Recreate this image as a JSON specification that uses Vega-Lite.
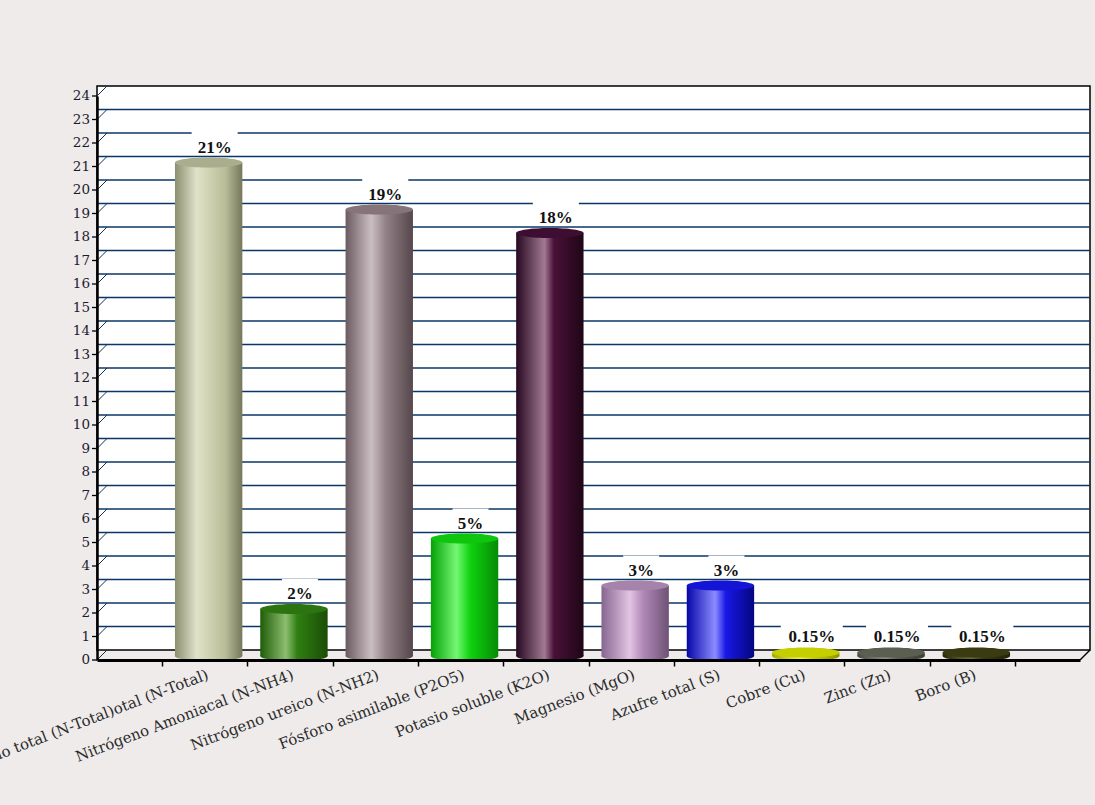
{
  "$schema": "https://vega.github.io/schema/vega-lite/v6.json",
  "width": 983,
  "height": 564,
  "autosize": {"type": "none"},
  "padding": {"left": 97, "top": 96, "right": 15, "bottom": 145},
  "background": "#eeebea",
  "config": {
    "view": {"stroke": null},
    "axis": {"grid": false}
  },
  "datasets": {
    "nutrientes": [
      {"nutriente": "Nitrógeno total (N-Total)otal (N-Total)", "valor": 21},
      {"nutriente": "Nitrógeno Amoniacal (N-NH4)", "valor": 2},
      {"nutriente": "Nitrógeno ureico (N-NH2)", "valor": 19},
      {"nutriente": "Fósforo asimilable (P2O5)", "valor": 5},
      {"nutriente": "Potasio soluble (K2O)", "valor": 18},
      {"nutriente": "Magnesio (MgO)", "valor": 3},
      {"nutriente": "Azufre total (S)", "valor": 3},
      {"nutriente": "Cobre (Cu)", "valor": 0.15},
      {"nutriente": "Zinc (Zn)", "valor": 0.15},
      {"nutriente": "Boro (B)", "valor": 0.15}
    ],
    "rejilla": [
      {"v": 0}, {"v": 1}, {"v": 2}, {"v": 3}, {"v": 4}, {"v": 5}, {"v": 6}, {"v": 7},
      {"v": 8}, {"v": 9}, {"v": 10}, {"v": 11}, {"v": 12}, {"v": 13}, {"v": 14},
      {"v": 15}, {"v": 16}, {"v": 17}, {"v": 18}, {"v": 19}, {"v": 20}, {"v": 21},
      {"v": 22}, {"v": 23}, {"v": 24}
    ],
    "marco": [{"pared": "fondo"}]
  },
  "layer": [
    {
      "description": "back wall of the 3D frame",
      "data": {"name": "marco"},
      "mark": {"type": "rect", "fill": "white", "stroke": "black", "strokeWidth": 1.5,
               "xOffset": 10, "x2Offset": 10, "yOffset": -10, "y2Offset": -10},
      "encoding": {
        "y": {"datum": 24, "type": "quantitative",
              "scale": {"domain": [0, 24], "nice": false, "zero": true}},
        "y2": {"datum": 0}
      }
    },
    {
      "description": "grid lines on the back wall",
      "data": {"name": "rejilla"},
      "transform": [{"filter": "datum.v > 0 && datum.v < 24"}],
      "mark": {"type": "rule", "color": "#0b3766", "strokeWidth": 1.3,
               "xOffset": 10, "x2Offset": 10, "yOffset": -10},
      "encoding": {"y": {"field": "v", "type": "quantitative"}}
    },
    {
      "description": "depth connectors from the value axis to the back wall",
      "data": {"name": "rejilla"},
      "mark": {"type": "rule", "color": "#13304f", "strokeWidth": 1, "x2Offset": 10, "y2Offset": -10},
      "encoding": {
        "x": {"value": 0}, "x2": {"value": 0},
        "y": {"field": "v", "type": "quantitative"}, "y2": {"field": "v"}
      }
    },
    {
      "description": "value-axis tick marks, one per unit",
      "data": {"name": "rejilla"},
      "mark": {"type": "rule", "color": "black", "strokeWidth": 1.3, "x2Offset": -5},
      "encoding": {
        "x": {"value": 0}, "x2": {"value": 0},
        "y": {"field": "v", "type": "quantitative"}, "y2": {"field": "v"}
      }
    },
    {
      "description": "value-axis labels, one per unit",
      "data": {"name": "rejilla"},
      "mark": {"type": "text", "font": "DejaVu Serif", "fontSize": 13.5, "color": "#1c1c30",
               "align": "right", "baseline": "middle", "xOffset": -7},
      "encoding": {
        "x": {"value": 0},
        "y": {"field": "v", "type": "quantitative"},
        "text": {"field": "v", "type": "quantitative", "format": "d"}
      }
    },
    {
      "description": "floor edge at the right end",
      "data": {"name": "marco"},
      "mark": {"type": "rule", "color": "black", "strokeWidth": 1.5, "x2Offset": 10, "y2Offset": -10},
      "encoding": {
        "x": {"value": "width"}, "x2": {"value": "width"},
        "y": {"datum": 0, "type": "quantitative"}, "y2": {"datum": 0}
      }
    },
    {
      "description": "white boxes behind the value labels",
      "data": {"name": "nutrientes"},
      "mark": {"type": "point", "filled": true, "fill": "white", "opacity": 1, "strokeWidth": 0,
               "shape": "M-1,-0.5L1,-0.5L1,0.5L-1,0.5Z", "xOffset": 10, "yOffset": -25},
      "encoding": {
        "x": {"field": "nutriente", "type": "nominal", "sort": null},
        "y": {"field": "valor", "type": "quantitative"},
        "size": {"condition": [
                   {"test": "datum.valor < 1", "value": 3844},
                   {"test": "datum.valor < 10", "value": 1296}
                 ], "value": 2116}
      }
    },
    {
      "description": "cylinder bodies",
      "data": {"name": "nutrientes"},
      "mark": {"type": "bar", "width": {"band": 0.79}, "xOffset": 4, "yOffset": -4, "y2Offset": -4},
      "encoding": {
        "x": {"field": "nutriente", "type": "nominal", "sort": null,
              "scale": {"paddingInner": 0, "paddingOuter": 0.762},
              "axis": {"title": null, "labelAngle": -21, "labelAlign": "right", "labelBaseline": "top",
                       "labelFont": "DejaVu Serif", "labelFontSize": 15, "labelColor": "#2a2a2a",
                       "labelPadding": 1, "labelLimit": 500, "labelOverlap": false,
                       "tickBand": "extent", "tickSize": 6, "tickColor": "black", "tickWidth": 1.5,
                       "domainColor": "black", "domainWidth": 3, "zindex": 1}},
        "y": {"field": "valor", "type": "quantitative",
              "axis": {"title": null, "labels": false, "ticks": false,
                       "domainColor": "black", "domainWidth": 2.5, "zindex": 1}},
        "fill": {"condition": [
          {"test": "datum.nutriente === 'Nitrógeno total (N-Total)otal (N-Total)'", "value": {"gradient": "linear", "x1": 0, "y1": 0, "x2": 1, "y2": 0, "stops": [{"offset": 0, "color": "#8b8f70"}, {"offset": 0.32, "color": "#e0e2c9"}, {"offset": 0.5, "color": "#d0d3b3"}, {"offset": 0.75, "color": "#b9bc98"}, {"offset": 1, "color": "#74775a"}]}},
          {"test": "datum.nutriente === 'Nitrógeno Amoniacal (N-NH4)'", "value": {"gradient": "linear", "x1": 0, "y1": 0, "x2": 1, "y2": 0, "stops": [{"offset": 0, "color": "#1f5c07"}, {"offset": 0.38, "color": "#8dbd70"}, {"offset": 0.55, "color": "#2f7f12"}, {"offset": 1, "color": "#1a4d05"}]}},
          {"test": "datum.nutriente === 'Nitrógeno ureico (N-NH2)'", "value": {"gradient": "linear", "x1": 0, "y1": 0, "x2": 1, "y2": 0, "stops": [{"offset": 0, "color": "#6a5b60"}, {"offset": 0.38, "color": "#cbbec2"}, {"offset": 0.6, "color": "#918186"}, {"offset": 1, "color": "#55474b"}]}},
          {"test": "datum.nutriente === 'Fósforo asimilable (P2O5)'", "value": {"gradient": "linear", "x1": 0, "y1": 0, "x2": 1, "y2": 0, "stops": [{"offset": 0, "color": "#06a006"}, {"offset": 0.38, "color": "#74f874"}, {"offset": 0.58, "color": "#10d210"}, {"offset": 1, "color": "#058c05"}]}},
          {"test": "datum.nutriente === 'Potasio soluble (K2O)'", "value": {"gradient": "linear", "x1": 0, "y1": 0, "x2": 1, "y2": 0, "stops": [{"offset": 0, "color": "#260820"}, {"offset": 0.42, "color": "#a27a93"}, {"offset": 0.56, "color": "#4a1038"}, {"offset": 1, "color": "#1f0616"}]}},
          {"test": "datum.nutriente === 'Magnesio (MgO)'", "value": {"gradient": "linear", "x1": 0, "y1": 0, "x2": 1, "y2": 0, "stops": [{"offset": 0, "color": "#866690"}, {"offset": 0.42, "color": "#e2c4e2"}, {"offset": 0.62, "color": "#b088b6"}, {"offset": 1, "color": "#6e5274"}]}},
          {"test": "datum.nutriente === 'Azufre total (S)'", "value": {"gradient": "linear", "x1": 0, "y1": 0, "x2": 1, "y2": 0, "stops": [{"offset": 0, "color": "#0606a8"}, {"offset": 0.42, "color": "#8c8cff"}, {"offset": 0.58, "color": "#1818e6"}, {"offset": 1, "color": "#050580"}]}},
          {"test": "datum.nutriente === 'Cobre (Cu)'", "value": {"gradient": "linear", "x1": 0, "y1": 0, "x2": 1, "y2": 0, "stops": [{"offset": 0, "color": "#a4ab00"}, {"offset": 0.42, "color": "#eef34a"}, {"offset": 0.6, "color": "#c9d300"}, {"offset": 1, "color": "#8f9500"}]}},
          {"test": "datum.nutriente === 'Zinc (Zn)'", "value": {"gradient": "linear", "x1": 0, "y1": 0, "x2": 1, "y2": 0, "stops": [{"offset": 0, "color": "#474b40"}, {"offset": 0.42, "color": "#8e9284"}, {"offset": 0.6, "color": "#5b5f51"}, {"offset": 1, "color": "#3c4035"}]}}
        ], "value": {"gradient": "linear", "x1": 0, "y1": 0, "x2": 1, "y2": 0, "stops": [{"offset": 0, "color": "#2a2a08"}, {"offset": 0.42, "color": "#6e6e36"}, {"offset": 0.6, "color": "#3b3b11"}, {"offset": 1, "color": "#232306"}]}}
      }
    },
    {
      "description": "rounded base of each cylinder",
      "data": {"name": "nutrientes"},
      "mark": {"type": "point", "filled": true, "opacity": 1, "strokeWidth": 0, "size": 4541,
               "shape": "M-1,0C-1,-0.0828,-0.5523,-0.15,0,-0.15C0.5523,-0.15,1,-0.0828,1,0C1,0.0828,0.5523,0.15,0,0.15C-0.5523,0.15,-1,0.0828,-1,0Z",
               "xOffset": 4, "yOffset": -4},
      "encoding": {
        "x": {"field": "nutriente", "type": "nominal", "sort": null},
        "y": {"datum": 0, "type": "quantitative"},
        "fill": {"condition": [
          {"test": "datum.nutriente === 'Nitrógeno total (N-Total)otal (N-Total)'", "value": {"gradient": "linear", "x1": 0, "y1": 0, "x2": 1, "y2": 0, "stops": [{"offset": 0, "color": "#8b8f70"}, {"offset": 0.32, "color": "#e0e2c9"}, {"offset": 0.5, "color": "#d0d3b3"}, {"offset": 0.75, "color": "#b9bc98"}, {"offset": 1, "color": "#74775a"}]}},
          {"test": "datum.nutriente === 'Nitrógeno Amoniacal (N-NH4)'", "value": {"gradient": "linear", "x1": 0, "y1": 0, "x2": 1, "y2": 0, "stops": [{"offset": 0, "color": "#1f5c07"}, {"offset": 0.38, "color": "#8dbd70"}, {"offset": 0.55, "color": "#2f7f12"}, {"offset": 1, "color": "#1a4d05"}]}},
          {"test": "datum.nutriente === 'Nitrógeno ureico (N-NH2)'", "value": {"gradient": "linear", "x1": 0, "y1": 0, "x2": 1, "y2": 0, "stops": [{"offset": 0, "color": "#6a5b60"}, {"offset": 0.38, "color": "#cbbec2"}, {"offset": 0.6, "color": "#918186"}, {"offset": 1, "color": "#55474b"}]}},
          {"test": "datum.nutriente === 'Fósforo asimilable (P2O5)'", "value": {"gradient": "linear", "x1": 0, "y1": 0, "x2": 1, "y2": 0, "stops": [{"offset": 0, "color": "#06a006"}, {"offset": 0.38, "color": "#74f874"}, {"offset": 0.58, "color": "#10d210"}, {"offset": 1, "color": "#058c05"}]}},
          {"test": "datum.nutriente === 'Potasio soluble (K2O)'", "value": {"gradient": "linear", "x1": 0, "y1": 0, "x2": 1, "y2": 0, "stops": [{"offset": 0, "color": "#260820"}, {"offset": 0.42, "color": "#a27a93"}, {"offset": 0.56, "color": "#4a1038"}, {"offset": 1, "color": "#1f0616"}]}},
          {"test": "datum.nutriente === 'Magnesio (MgO)'", "value": {"gradient": "linear", "x1": 0, "y1": 0, "x2": 1, "y2": 0, "stops": [{"offset": 0, "color": "#866690"}, {"offset": 0.42, "color": "#e2c4e2"}, {"offset": 0.62, "color": "#b088b6"}, {"offset": 1, "color": "#6e5274"}]}},
          {"test": "datum.nutriente === 'Azufre total (S)'", "value": {"gradient": "linear", "x1": 0, "y1": 0, "x2": 1, "y2": 0, "stops": [{"offset": 0, "color": "#0606a8"}, {"offset": 0.42, "color": "#8c8cff"}, {"offset": 0.58, "color": "#1818e6"}, {"offset": 1, "color": "#050580"}]}},
          {"test": "datum.nutriente === 'Cobre (Cu)'", "value": {"gradient": "linear", "x1": 0, "y1": 0, "x2": 1, "y2": 0, "stops": [{"offset": 0, "color": "#a4ab00"}, {"offset": 0.42, "color": "#eef34a"}, {"offset": 0.6, "color": "#c9d300"}, {"offset": 1, "color": "#8f9500"}]}},
          {"test": "datum.nutriente === 'Zinc (Zn)'", "value": {"gradient": "linear", "x1": 0, "y1": 0, "x2": 1, "y2": 0, "stops": [{"offset": 0, "color": "#474b40"}, {"offset": 0.42, "color": "#8e9284"}, {"offset": 0.6, "color": "#5b5f51"}, {"offset": 1, "color": "#3c4035"}]}}
        ], "value": {"gradient": "linear", "x1": 0, "y1": 0, "x2": 1, "y2": 0, "stops": [{"offset": 0, "color": "#2a2a08"}, {"offset": 0.42, "color": "#6e6e36"}, {"offset": 0.6, "color": "#3b3b11"}, {"offset": 1, "color": "#232306"}]}}
      }
    },
    {
      "description": "flat top of each cylinder",
      "data": {"name": "nutrientes"},
      "mark": {"type": "point", "filled": true, "opacity": 1, "strokeWidth": 0, "size": 4541,
               "shape": "M-1,0C-1,-0.0828,-0.5523,-0.15,0,-0.15C0.5523,-0.15,1,-0.0828,1,0C1,0.0828,0.5523,0.15,0,0.15C-0.5523,0.15,-1,0.0828,-1,0Z",
               "xOffset": 4, "yOffset": -4},
      "encoding": {
        "x": {"field": "nutriente", "type": "nominal", "sort": null},
        "y": {"field": "valor", "type": "quantitative"},
        "fill": {"field": "nutriente", "type": "nominal", "sort": null, "legend": null,
                 "scale": {"range": ["#aaae8e", "#2c7410", "#857479", "#0fc60f", "#3d0e31", "#a583aa", "#1414d6", "#c5cf00", "#5b5f51", "#3a3b11"]}}
      }
    },
    {
      "description": "percentage labels",
      "data": {"name": "nutrientes"},
      "transform": [{"calculate": "datum.valor + '%'", "as": "etiqueta"}],
      "mark": {"type": "text", "font": "Liberation Serif", "fontSize": 17, "fontWeight": "bold",
               "color": "#111111", "align": "center", "baseline": "alphabetic",
               "xOffset": 10, "yOffset": -14},
      "encoding": {
        "x": {"field": "nutriente", "type": "nominal", "sort": null},
        "y": {"field": "valor", "type": "quantitative"},
        "text": {"field": "etiqueta", "type": "nominal"}
      }
    }
  ]
}
